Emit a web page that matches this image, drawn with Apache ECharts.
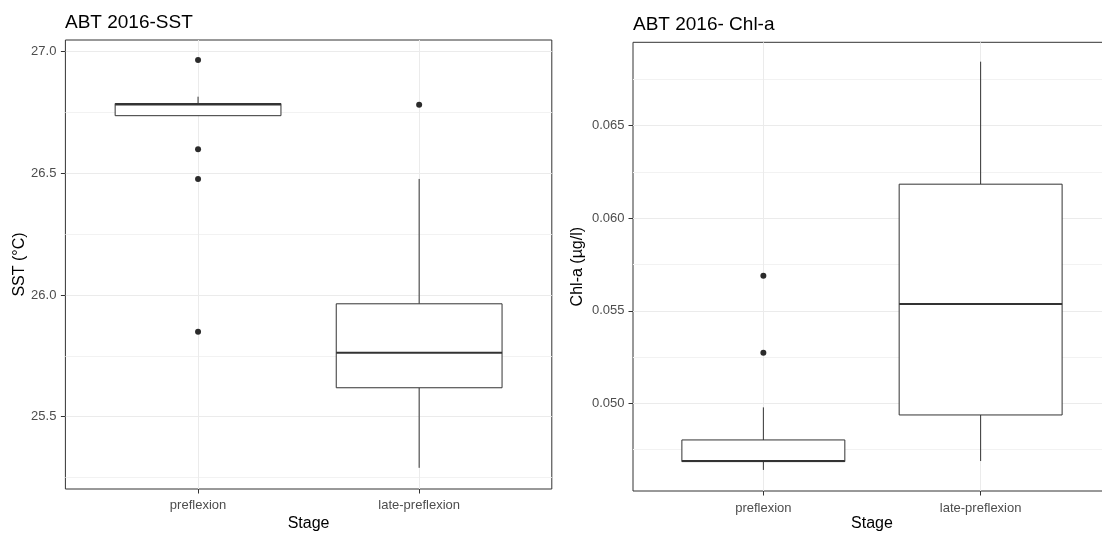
<!DOCTYPE html>
<html>
<head>
<meta charset="utf-8">
<script src="https://cdn.jsdelivr.net/npm/echarts@6/dist/echarts.min.js"></script>
<style>
  html, body { margin: 0; padding: 0; background: #fff; }
  #chart { width: 1102px; height: 533px; }
</style>
</head>
<body>
<div id="chart"></div>
<script>
// Developmental stages on the x axis
const stages = ['preflexion', 'late-preflexion'];

// Box statistics per stage: [lower whisker, Q1, median, Q3, upper whisker]
const sstBoxes = [
  [26.737, 26.737, 26.783, 26.787, 26.815],
  [25.290, 25.619, 25.763, 25.964, 26.477]
];
const sstOutliers = [
  [26.966, 26.599, 26.477, 25.849],
  [26.782]
];

const chlBoxes = [
  [0.04640, 0.04685, 0.04688, 0.04802, 0.04978],
  [0.04688, 0.04937, 0.05536, 0.06184, 0.06846]
];
const chlOutliers = [
  [0.05689, 0.05273],
  []
];

// Axis ticks
const sstTicks = [25.5, 26.0, 26.5, 27.0];
const sstMinor = [25.25, 25.75, 26.25, 26.75];
const chlTicks = [0.050, 0.055, 0.060, 0.065];
const chlMinor = [0.0475, 0.0525, 0.0575, 0.0625, 0.0675];
const stagePos = [1, 2];

const FONT = '"Liberation Sans", Arial, sans-serif';
const INK = '#333333';
const GRID_MAJOR = '#ebebeb';
const GRID_MINOR = '#f2f2f2';

function boxData(boxes) {
  return boxes.map((b, i) => [i + 1].concat(b));
}
function outlierData(outs) {
  const pts = [];
  outs.forEach((vals, i) => vals.forEach(v => pts.push([i + 1, v])));
  return pts;
}

function renderBox(params, api) {
  const x = api.value(0);
  const low = api.coord([x, api.value(1)]);
  const q1 = api.coord([x, api.value(2)]);
  const med = api.coord([x, api.value(3)]);
  const q3 = api.coord([x, api.value(4)]);
  const high = api.coord([x, api.value(5)]);
  const half = api.size([0.75, 0])[0] / 2;
  const cx = q1[0];
  const line = { stroke: INK, lineWidth: 1, fill: null };
  return {
    type: 'group',
    children: [
      { type: 'line', shape: { x1: cx, y1: q3[1], x2: cx, y2: high[1] }, style: line },
      { type: 'line', shape: { x1: cx, y1: q1[1], x2: cx, y2: low[1] }, style: line },
      { type: 'rect', shape: { x: cx - half, y: q3[1], width: half * 2, height: q1[1] - q3[1] },
        style: { fill: '#ffffff', stroke: INK, lineWidth: 1 } },
      { type: 'line', shape: { x1: cx - half, y1: med[1], x2: cx + half, y2: med[1] },
        style: { stroke: INK, lineWidth: 2 } }
    ]
  };
}

function xAxisFor(gridIndex, labelMargin, nameGap) {
  return {
    type: 'value', gridIndex: gridIndex, min: 0.4, max: 2.6,
    name: 'Stage', nameLocation: 'middle', nameGap: nameGap, nameMoveOverlap: false,
    nameTextStyle: { fontFamily: FONT, fontSize: 16, color: '#000' },
    axisLine: { show: false },
    axisTick: { show: true, customValues: stagePos, length: 4.5, lineStyle: { color: INK, width: 1 } },
    axisLabel: { customValues: stagePos, margin: labelMargin, fontFamily: FONT, fontSize: 13, color: '#4d4d4d',
      formatter: v => stages[Math.round(v) - 1] || '' },
    splitLine: { show: true, lineStyle: { color: GRID_MAJOR, width: 1 } }
  };
}

function yAxisFor(gridIndex, min, max, ticks, digits, name, nameGap, labelMargin) {
  return {
    type: 'value', gridIndex: gridIndex, min: min, max: max,
    name: name, nameLocation: 'middle', nameGap: nameGap, nameMoveOverlap: false,
    nameTextStyle: { fontFamily: FONT, fontSize: 16, color: '#000' },
    axisLine: { show: false },
    axisTick: { show: true, customValues: ticks, length: 4.5, lineStyle: { color: INK, width: 1 } },
    axisLabel: { customValues: ticks, margin: labelMargin, fontFamily: FONT, fontSize: 13, color: '#4d4d4d',
      formatter: v => Number(v).toFixed(digits) },
    splitLine: { show: true, lineStyle: { color: GRID_MAJOR, width: 1 } }
  };
}

function minorAxisFor(gridIndex, min, max, ticks) {
  return {
    type: 'value', gridIndex: gridIndex, min: min, max: max,
    axisLine: { show: false },
    axisTick: { show: false, customValues: ticks },
    axisLabel: { show: false, customValues: ticks },
    splitLine: { show: true, lineStyle: { color: GRID_MINOR, width: 1 } }
  };
}

const SST_MIN = 25.203, SST_MAX = 27.048;
const CHL_MIN = 0.045261, CHL_MAX = 0.069507;

const option = {
  animation: false,
  backgroundColor: '#ffffff',
  title: [
    { text: 'ABT 2016-SST', left: 65, top: 13, padding: 0,
      textStyle: { fontFamily: FONT, fontSize: 19, fontWeight: 'normal', color: '#000' } },
    { text: 'ABT 2016- Chl-a', left: 633, top: 15.5, padding: 0,
      textStyle: { fontFamily: FONT, fontSize: 19, fontWeight: 'normal', color: '#000' } }
  ],
  grid: [
    { left: 65.4, width: 486.4, top: 40, height: 449, outerBoundsMode: 'none',
      show: true, borderColor: INK, borderWidth: 1, backgroundColor: '#fff' },
    { left: 633, width: 478, top: 42.3, height: 448.7, outerBoundsMode: 'none',
      show: true, borderColor: INK, borderWidth: 1, backgroundColor: '#fff' }
  ],
  xAxis: [
    xAxisFor(0, 10, 26.5),
    xAxisFor(1, 10.5, 25)
  ],
  yAxis: [
    yAxisFor(0, SST_MIN, SST_MAX, sstTicks, 1, 'SST (°C)', 38, 9),
    minorAxisFor(0, SST_MIN, SST_MAX, sstMinor),
    yAxisFor(1, CHL_MIN, CHL_MAX, chlTicks, 3, 'Chl-a (µg/l)', 47, 8.5),
    minorAxisFor(1, CHL_MIN, CHL_MAX, chlMinor)
  ],
  series: [
    { type: 'custom', xAxisIndex: 0, yAxisIndex: 0, renderItem: renderBox, data: boxData(sstBoxes), z: 3 },
    { type: 'scatter', xAxisIndex: 0, yAxisIndex: 0, data: outlierData(sstOutliers), symbol: 'circle',
      symbolSize: 6, itemStyle: { color: '#2b2b2b', opacity: 1 }, z: 4 },
    { type: 'custom', xAxisIndex: 1, yAxisIndex: 2, renderItem: renderBox, data: boxData(chlBoxes), z: 3 },
    { type: 'scatter', xAxisIndex: 1, yAxisIndex: 2, data: outlierData(chlOutliers), symbol: 'circle',
      symbolSize: 6, itemStyle: { color: '#2b2b2b', opacity: 1 }, z: 4 }
  ]
};

const chart = echarts.init(document.getElementById('chart'), null, { renderer: 'canvas' });
chart.setOption(option);
</script>
</body>
</html>
